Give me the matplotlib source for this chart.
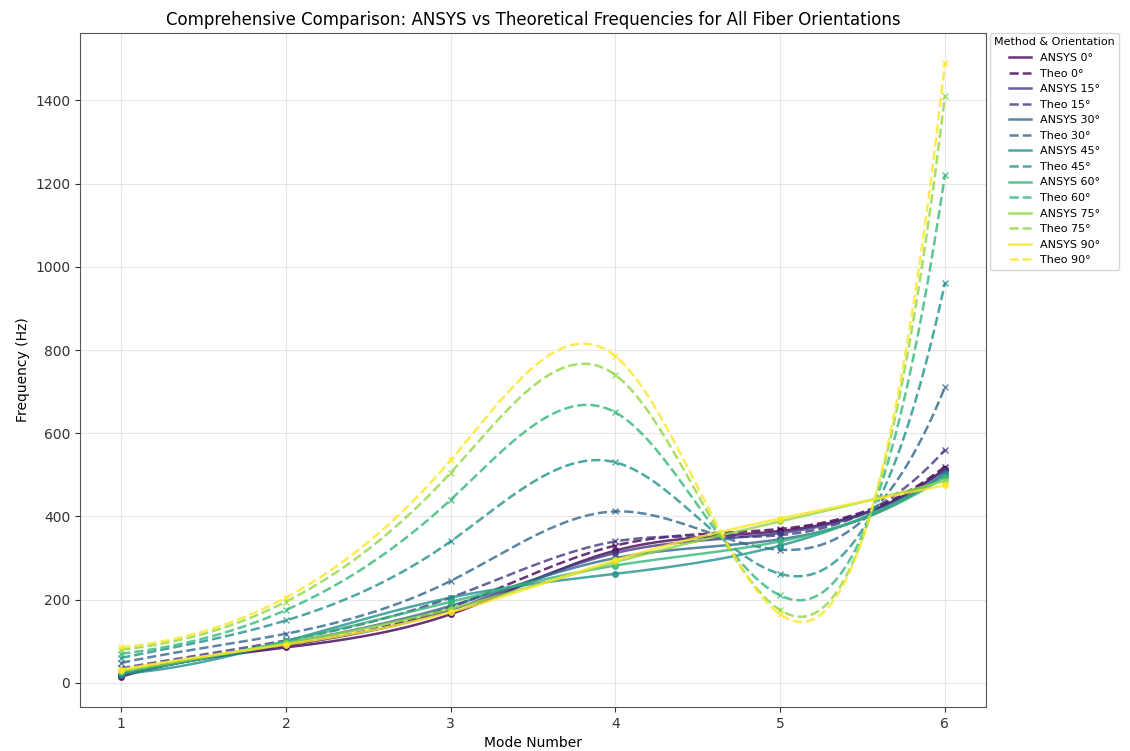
import matplotlib
matplotlib.use('Agg')
import matplotlib.pyplot as plt
import numpy as np

plt.rcParams['font.family'] = ['DejaVu Sans']

modes = [1, 2, 3, 4, 5, 6]
angles = [0, 15, 30, 45, 60, 75, 90]

# ANSYS frequencies (Hz) per fiber orientation
ansys_0 = [15, 85, 165, 318, 365, 515]
ansys_15 = [18, 90, 175, 312, 360, 512]
ansys_30 = [20, 95, 185, 300, 345, 505]
ansys_45 = [22, 100, 205, 262, 330, 500]
ansys_60 = [25, 100, 195, 282, 340, 495]
ansys_75 = [28, 95, 178, 290, 388, 485]
ansys_90 = [32, 92, 170, 295, 395, 475]

# Theoretical frequencies (Hz) per fiber orientation
theo_0 = [22, 90, 182, 330, 370, 520]
theo_15 = [35, 102, 205, 340, 355, 560]
theo_30 = [48, 118, 245, 412, 320, 710]
theo_45 = [60, 150, 340, 530, 262, 960]
theo_60 = [70, 175, 440, 650, 210, 1220]
theo_75 = [80, 195, 505, 740, 175, 1410]
theo_90 = [85, 205, 535, 785, 165, 1490]

ansys_all = [ansys_0, ansys_15, ansys_30, ansys_45, ansys_60, ansys_75, ansys_90]
theo_all = [theo_0, theo_15, theo_30, theo_45, theo_60, theo_75, theo_90]


def spline(x, y, xs):
    # not-a-knot cubic spline through the points
    x = np.asarray(x, float)
    y = np.asarray(y, float)
    n = len(x)
    h = np.diff(x)
    A = np.zeros((n, n))
    b = np.zeros(n)
    A[0, 0] = -1 / h[0]
    A[0, 1] = 1 / h[0] + 1 / h[1]
    A[0, 2] = -1 / h[1]
    A[-1, -3] = -1 / h[-2]
    A[-1, -2] = 1 / h[-2] + 1 / h[-1]
    A[-1, -1] = -1 / h[-1]
    for i in range(1, n - 1):
        A[i, i - 1] = h[i - 1]
        A[i, i] = 2 * (h[i - 1] + h[i])
        A[i, i + 1] = h[i]
        b[i] = 6 * ((y[i + 1] - y[i]) / h[i] - (y[i] - y[i - 1]) / h[i - 1])
    M = np.linalg.solve(A, b)
    idx = np.clip(np.searchsorted(x, xs) - 1, 0, n - 2)
    x0 = x[idx]
    x1 = x[idx + 1]
    hh = h[idx]
    ys = (M[idx] * (x1 - xs) ** 3 / (6 * hh) + M[idx + 1] * (xs - x0) ** 3 / (6 * hh)
          + (y[idx] / hh - M[idx] * hh / 6) * (x1 - xs)
          + (y[idx + 1] / hh - M[idx + 1] * hh / 6) * (xs - x0))
    return ys


fig = plt.figure(figsize=(11.3, 7.51), dpi=100)
ax = fig.add_axes([0.0708, 0.0586, 0.8018, 0.8975])

colors = plt.cm.viridis(np.linspace(0, 1, len(angles)))
xs = np.linspace(1, 6, 300)

for i in range(len(angles)):
    c = colors[i]
    ax.plot(xs, spline(modes, ansys_all[i], xs), color=c, linewidth=1.8,
            alpha=0.8, label='ANSYS %d°' % angles[i])
    ax.plot(modes, ansys_all[i], linestyle='none', marker='o', markersize=4,
            color=c, alpha=0.8)
    ax.plot(xs, spline(modes, theo_all[i], xs), color=c, linewidth=1.8,
            linestyle='--', alpha=0.8, label='Theo %d°' % angles[i])
    ax.plot(modes, theo_all[i], linestyle='none', marker='x', markersize=5,
            color=c, alpha=0.8)

ax.set_xlim(0.75, 6.25)
ax.set_ylim(-58, 1562)
ax.set_xticks(modes)
ax.set_yticks([0, 200, 400, 600, 800, 1000, 1200, 1400])
ax.tick_params(labelsize=10, colors='#333333')
ax.grid(True, alpha=0.3)
for s in ax.spines.values():
    s.set_color('#555555')

ax.set_xlabel('Mode Number', fontsize=10)
ax.set_ylabel('Frequency (Hz)', fontsize=10)
ax.set_title('Comprehensive Comparison: ANSYS vs Theoretical Frequencies for All Fiber Orientations',
             fontsize=12, pad=6)

ax.legend(title='Method & Orientation', loc='upper left', bbox_to_anchor=(1.004, 1.0),
          borderaxespad=0, fontsize=8, title_fontsize=8, frameon=True)

fig.savefig('out.png', dpi=100)
